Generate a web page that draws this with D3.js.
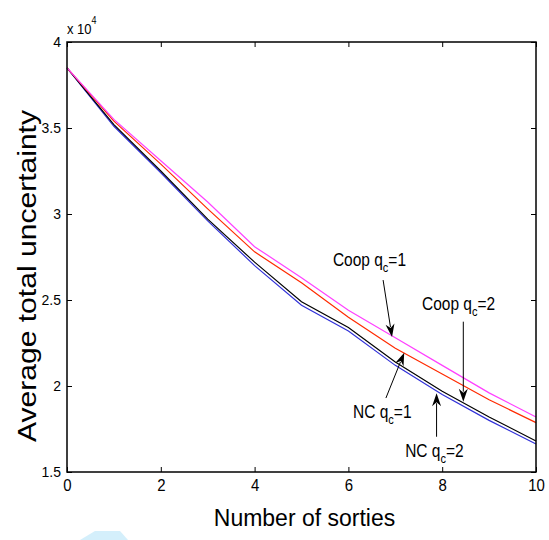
<!DOCTYPE html>
<html><head><meta charset="utf-8">
<script src="https://cdn.jsdelivr.net/npm/d3@7"></script>
<style>body{margin:0;background:#fff} svg{display:block} text{font-family:"Liberation Sans",Arial,Helvetica,sans-serif;fill:#000}</style>
</head><body><svg id="c" width="549" height="540"></svg>
<script>
// ---- data ----
const sorties   = [0, 1, 2, 3, 4, 5, 6, 7, 8, 9, 10];
const coopQc1   = [38500, 35500, 33100, 30700, 28100, 26300, 24400, 22800, 21200, 19600, 18200];
const coopQc2   = [38500, 35400, 32900, 30300, 27800, 26000, 24000, 22200, 20700, 19200, 17870];
const ncQc1     = [38500, 35200, 32500, 29700, 27200, 24900, 23400, 21400, 19700, 18200, 16800];
const ncQc2     = [38500, 35100, 32400, 29600, 27000, 24700, 23200, 21200, 19500, 18000, 16630];
const seriesNames = ["NC q_c=2", "NC q_c=1", "Coop q_c=2", "Coop q_c=1"];
const xTicks = [0, 2, 4, 6, 8, 10];
const yTicks = [15000, 20000, 25000, 30000, 35000, 40000];
const yTickLabels = ["1.5", "2", "2.5", "3", "3.5", "4"];
const xLabel = "Number of sorties";
const yLabel = "Average total uncertainty";
const yExponent = "4";
// annotation anchors (data units): label position, arrow tail, arrow tip
const annotLabels = [
  {main: "Coop q", sub: "c", tail: "=1", x: 5.67, y: 26980},
  {main: "Coop q", sub: "c", tail: "=2", x: 7.57, y: 24420},
  {main: "NC q",   sub: "c", tail: "=1", x: 6.10, y: 18140},
  {main: "NC q",   sub: "c", tail: "=2", x: 7.21, y: 15870}
];
const annotArrows = [
  {x1: 6.74, y1: 26160, x2: 6.93, y2: 22850},
  {x1: 8.45, y1: 23740, x2: 8.45, y2: 19090},
  {x1: 6.80, y1: 19300, x2: 7.19, y2: 21940},
  {x1: 7.88, y1: 17050, x2: 7.88, y2: 19580}
];

// ---- chart ----
const svg = d3.select("#c");
const L = 67, R = 536, T = 42, B = 472;
const x = d3.scaleLinear().domain([0, 10]).range([L, R]);
const y = d3.scaleLinear().domain([15000, 40000]).range([B, T]);

const series = [
  {vals: ncQc2,   color: "#3030d8"},
  {vals: ncQc1,   color: "#000000"},
  {vals: coopQc2, color: "#ff2a00"},
  {vals: coopQc1, color: "#ff40ff"}
];

// stretch text vertically around its anchor point
function vstretch(sel, s, ax, ay) {
  sel.attr("transform", `translate(${ax},${ay}) scale(1,${s}) translate(${-ax},${-ay})`);
}

// watermark fragment at bottom
svg.append("path").attr("d", "M80,540 L95,531 L120,531 L128,540 Z").attr("fill", "#d4effb");

const line = d3.line().x((d, i) => x(sorties[i])).y(d => y(d));
svg.append("g").selectAll("path").data(series).join("path")
  .attr("d", s => line(s.vals))
  .attr("fill", "none").attr("stroke", s => s.color).attr("stroke-width", 1.2);

// axes (ticks inward, mirrored)
const tl = 5;
const fmtY = d => yTickLabels[yTicks.indexOf(d)];
const gB = svg.append("g").attr("transform", `translate(0,${B})`)
  .call(d3.axisBottom(x).tickValues(xTicks).tickSize(-tl).tickPadding(7).tickFormat(d3.format("d")));
const gT = svg.append("g").attr("transform", `translate(0,${T})`)
  .call(d3.axisTop(x).tickValues(xTicks).tickSize(-tl).tickFormat(""));
const gL = svg.append("g").attr("transform", `translate(${L},0)`)
  .call(d3.axisLeft(y).tickValues(yTicks).tickSize(-tl).tickPadding(6).tickFormat(fmtY));
const gR = svg.append("g").attr("transform", `translate(${R},0)`)
  .call(d3.axisRight(y).tickValues(yTicks).tickSize(-tl).tickFormat(""));
[gB, gT, gL, gR].forEach(g => {
  g.select(".domain").remove();
  g.selectAll("line").attr("stroke", "#000").attr("stroke-width", 1);
  g.selectAll("text").attr("fill", "#000")
    .style("font-family", '"Liberation Sans",Arial,sans-serif');
});
gB.selectAll("text").style("font-size", "15px").each(function () { vstretch(d3.select(this), 1.12, 0, 7); });
gL.selectAll("text").style("font-size", "14px").each(function () { vstretch(d3.select(this), 1.1, 0, 0); });
svg.append("rect").attr("x", L).attr("y", T).attr("width", R - L).attr("height", B - T)
  .attr("fill", "none").attr("stroke", "#000").attr("stroke-width", 1.5);

// exponent
const ex = svg.append("text").attr("x", L).attr("y", 34).style("font-size", "13px");
ex.append("tspan").text("x 10");
ex.append("tspan").attr("dy", -9).style("font-size", "9px").text(yExponent);
vstretch(ex, 1.15, L, 34);

// axis titles
const xt = svg.append("text").attr("x", (L + R) / 2 + 3).attr("y", 526).attr("text-anchor", "middle")
  .style("font-size", "23px").text(xLabel);
vstretch(xt, 1.08, (L + R) / 2, 526);
svg.append("text").attr("transform", `translate(36,${(T + B) / 2 + 19}) rotate(-90)`)
  .attr("text-anchor", "middle").style("font-size", "25px")
  .attr("textLength", 332).attr("lengthAdjust", "spacingAndGlyphs").text(yLabel);

// annotations
annotLabels.forEach(a => {
  const tx = x(a.x), ty = y(a.y);
  const t = svg.append("text").attr("x", tx).attr("y", ty).style("font-size", "15.5px");
  t.append("tspan").text(a.main);
  t.append("tspan").attr("dy", 5).style("font-size", "11px").text(a.sub);
  t.append("tspan").attr("dy", -5).style("font-size", "15.5px").text(a.tail);
  vstretch(t, 1.18, tx, ty);
});
annotArrows.forEach(a => {
  const x1 = x(a.x1), y1 = y(a.y1), x2 = x(a.x2), y2 = y(a.y2);
  const dx = x2 - x1, dy = y2 - y1, len = Math.hypot(dx, dy);
  const ux = dx / len, uy = dy / len, hl = 13, hw = 4.5;
  const bx = x2 - ux * hl, by = y2 - uy * hl;
  svg.append("line").attr("x1", x1).attr("y1", y1).attr("x2", bx + ux * 3).attr("y2", by + uy * 3)
    .attr("stroke", "#000").attr("stroke-width", 1);
  svg.append("path")
    .attr("d", `M${x2},${y2} L${bx - uy * hw},${by + ux * hw} L${bx + ux * 4},${by + uy * 4} L${bx + uy * hw},${by - ux * hw} Z`)
    .attr("fill", "#000");
});
</script></body></html>
